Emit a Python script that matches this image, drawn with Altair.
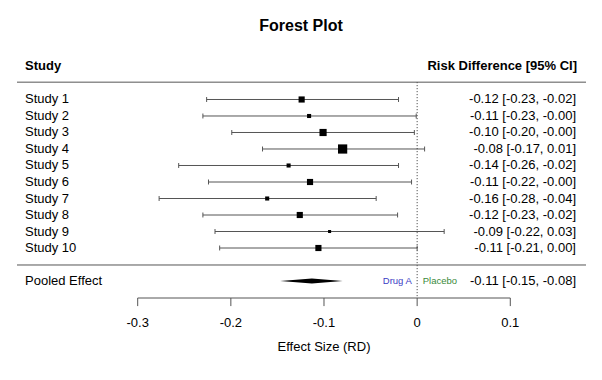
import altair as alt
import pandas as pd

# ---- data ----
studies = ["Study 1", "Study 2", "Study 3", "Study 4", "Study 5",
           "Study 6", "Study 7", "Study 8", "Study 9", "Study 10"]
rows = [1, 2, 3, 4, 5, 6, 7, 8, 9, 10]
estimates = [-0.124, -0.116, -0.101, -0.080, -0.138, -0.115, -0.161, -0.126, -0.094, -0.106]
ci_low = [-0.226, -0.230, -0.199, -0.166, -0.256, -0.224, -0.277, -0.230, -0.217, -0.212]
ci_high = [-0.020, -0.001, -0.003, 0.008, -0.020, -0.006, -0.044, -0.021, 0.029, -0.000]
weights = [10.9, 4.8, 14.8, 24.5, 4.8, 10.9, 4.8, 10.9, 2.7, 10.9]
ci_labels = ["-0.12 [-0.23, -0.02]", "-0.11 [-0.23, -0.00]", "-0.10 [-0.20, -0.00]",
             "-0.08 [-0.17,  0.01]", "-0.14 [-0.26, -0.02]", "-0.11 [-0.22, -0.00]",
             "-0.16 [-0.28, -0.04]", "-0.12 [-0.23, -0.02]", "-0.09 [-0.22,  0.03]",
             "-0.11 [-0.21,  0.00]"]

pooled_name = "Pooled Effect"
pooled_row = 12
pooled_est = -0.113
pooled_low = -0.147
pooled_high = -0.080
pooled_label = "-0.11 [-0.15, -0.08]"
diamond_half = 0.15
cap_half = 0.15

x_ticks = [-0.3, -0.2, -0.1, 0, 0.1]
x_tick_labels = ["-0.3", "-0.2", "-0.1", "0", "0.1"]
x_title = "Effect Size (RD)"

FONT = "Liberation Sans"

# row positions of the axis pieces (in row units)
AXIS_ROW = 13.03
TICK_END_ROW = 13.52
TICK_LABEL_ROW = 14.55
AXIS_TITLE_ROW = 16.0

df = pd.DataFrame({"study": studies, "row": rows, "est": estimates,
                   "lo": ci_low, "hi": ci_high, "w": weights, "label": ci_labels})

diamond = pd.DataFrame({
    "x": [pooled_low, pooled_est, pooled_high],
    "y": [pooled_row, pooled_row - diamond_half, pooled_row],
    "y2": [pooled_row, pooled_row + diamond_half, pooled_row],
})

ticks_df = pd.DataFrame({"x": x_ticks, "lab": x_tick_labels,
                         "r": [AXIS_ROW] * len(x_ticks),
                         "r2": [TICK_END_ROW] * len(x_ticks),
                         "rl": [TICK_LABEL_ROW] * len(x_ticks)})

# x domain chosen so that -0.3 .. 0.1 sits under the middle of the panel
xscale = alt.Scale(domain=[-0.43924, 0.18986], nice=False, zero=False)
yscale = alt.Scale(domain=[-4.545, 13.03], reverse=True, nice=False, zero=False)


def X(field):
    return alt.X(field, scale=xscale, axis=None)


def Y(field):
    return alt.Y(field, scale=yscale, axis=None)


base = alt.Chart(df)

ci_rules = base.mark_rule(color="#555", strokeWidth=1).encode(
    x=X("lo:Q"), x2="hi:Q", y=Y("row:Q"))
caps = base.transform_fold(["lo", "hi"], as_=["end", "xe"]).transform_calculate(
    r1=f"datum.row - {cap_half}", r2=f"datum.row + {cap_half}"
).mark_rule(color="#555", strokeWidth=1).encode(
    x=X("xe:Q"), y=Y("r1:Q"), y2="r2:Q")
squares = base.mark_square(color="black", opacity=1, filled=True).encode(
    x=X("est:Q"), y=Y("row:Q"),
    size=alt.Size("w:Q", scale=alt.Scale(domain=[0, 24.5], range=[0, 85]), legend=None))

study_text = base.mark_text(align="left", baseline="middle", font=FONT, fontSize=13, color="#000").encode(
    x=alt.value(17), y=Y("row:Q"), text="study:N")
ci_text = base.mark_text(align="right", baseline="middle", font=FONT, fontSize=13, color="#000").encode(
    x=alt.value(568), y=Y("row:Q"), text="label:N")

diamond_mark = alt.Chart(diamond).mark_area(color="black").encode(
    x=X("x:Q"), y=Y("y:Q"), y2="y2:Q")


def label(txt, row, xpos, align="left", weight="normal", size=13, color="#000"):
    return alt.Chart(pd.DataFrame({"t": [txt], "r": [row]})).mark_text(
        align=align, baseline="middle", font=FONT, fontSize=size, fontWeight=weight, color=color
    ).encode(x=xpos, y=Y("r:Q"), text="t:N")


def label_at(txt, row, xval, align="left", size=9.5, color="#000"):
    return alt.Chart(pd.DataFrame({"t": [txt], "r": [row], "xv": [xval]})).mark_text(
        align=align, baseline="middle", font=FONT, fontSize=size, color=color
    ).encode(x=X("xv:Q"), y=Y("r:Q"), text="t:N")


title = label("Forest Plot", -3.45, alt.value(293), align="center", weight="bold", size=16)
h_study = label("Study", -1, alt.value(17), weight="bold")
h_rd = label("Risk Difference [95% CI]", -1, alt.value(569), align="right", weight="bold")
pooled_txt = label(pooled_name, pooled_row, alt.value(17))
pooled_ci = label(pooled_label, pooled_row, alt.value(568), align="right")
drug_a = label_at("Drug A", pooled_row, -0.0057, align="right", color="#3b3bc4")
placebo = label_at("Placebo", pooled_row, 0.006, color="#3a8a3a")

sep = pd.DataFrame({"r": [-0.05, 11.03]})
sep_rules = alt.Chart(sep).mark_rule(color="#555", strokeWidth=1).encode(
    x=alt.value(9), x2=alt.value(578), y=Y("r:Q"))

# hand-drawn x axis: line, ticks, labels, title
axis_line = alt.Chart(pd.DataFrame({"a": [x_ticks[0]], "b": [x_ticks[-1]], "r": [AXIS_ROW]})).mark_rule(
    color="#555", strokeWidth=1).encode(x=X("a:Q"), x2="b:Q", y=Y("r:Q"))
tick_marks = alt.Chart(ticks_df).mark_rule(color="#555", strokeWidth=1).encode(
    x=X("x:Q"), y=Y("r:Q"), y2="r2:Q")
tick_text = alt.Chart(ticks_df).mark_text(
    align="center", baseline="middle", font=FONT, fontSize=13, color="#000").encode(
    x=X("x:Q"), y=Y("rl:Q"), text="lab:N")
axis_title = label_at(x_title, AXIS_TITLE_ROW, (x_ticks[0] + x_ticks[-1]) / 2,
                      align="center", size=13)

zero_line = alt.Chart(pd.DataFrame({"x": [0], "r": [-0.05], "r2": [AXIS_ROW]})).mark_rule(
    color="#333", strokeWidth=1, strokeDash=[1, 2]).encode(
    x=X("x:Q"), y=Y("r:Q"), y2="r2:Q")

chart = alt.layer(
    ci_rules, caps, squares, diamond_mark, zero_line, sep_rules, axis_line, tick_marks,
    tick_text, axis_title,
    study_text, ci_text, title, h_study, h_rd, pooled_txt, pooled_ci, drug_a, placebo
).properties(
    width=586, height=290, padding=0, background="white",
).configure_view(stroke=None)

chart.save("out.html", embed_options={"renderer": "svg", "actions": False})
